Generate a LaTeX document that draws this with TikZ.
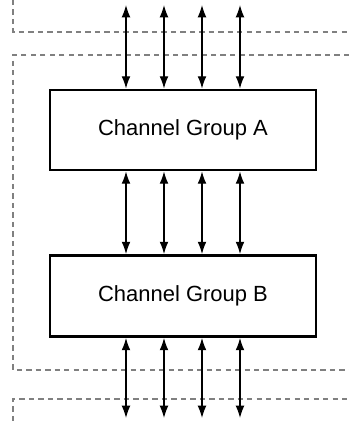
\documentclass[tikz,border=0pt]{standalone}
\usepackage{fontspec}
\setmainfont{Liberation Sans}
\usetikzlibrary{arrows, arrows.meta, positioning, calc}

\begin{document}
\begin{tikzpicture}[>={Latex[length=7pt,width=5pt]}]
\useasboundingbox (0,0) rectangle (6.98,8.42);

% dashed borders
\draw[gray, line width=1.3pt, dash pattern=on 3pt off 2.4pt] (0.26,8.42) -- (0.26,7.78) -- (6.98,7.78);
\draw[gray, line width=1.3pt, dash pattern=on 3pt off 2.4pt] (6.98,7.32) -- (0.26,7.32) -- (0.26,1.02) -- (6.98,1.02);
\draw[gray, line width=1.3pt, dash pattern=on 3pt off 2.4pt] (0.26,0) -- (0.26,0.44) -- (6.98,0.44);

\node[rectangle, draw, line width=1.6pt, fill=white, minimum width=5.32cm, minimum height=1.6cm, font=\fontsize{12.5}{15}\selectfont] (grpA) at (3.66,5.82) {Channel Group A};
\node[rectangle, draw, line width=1.6pt, fill=white, minimum width=5.32cm, minimum height=1.62cm, font=\fontsize{12.5}{15}\selectfont] (grpB) at (3.66,2.5) {Channel Group B};

\foreach \i/\x in {1/2.52, 2/3.28, 3/4.04, 4/4.80} {
  \coordinate (top\i) at (\x,8.32);
  \coordinate (bot\i) at (\x,0.06);
  \draw[<->, line width=0.7pt] (top\i) -- (top\i |- grpA.north);
  \draw[<->, line width=0.7pt] (top\i |- grpA.south) -- (top\i |- grpB.north);
  \draw[<->, line width=0.7pt] (bot\i |- grpB.south) -- (bot\i);
}
\end{tikzpicture}
\end{document}
